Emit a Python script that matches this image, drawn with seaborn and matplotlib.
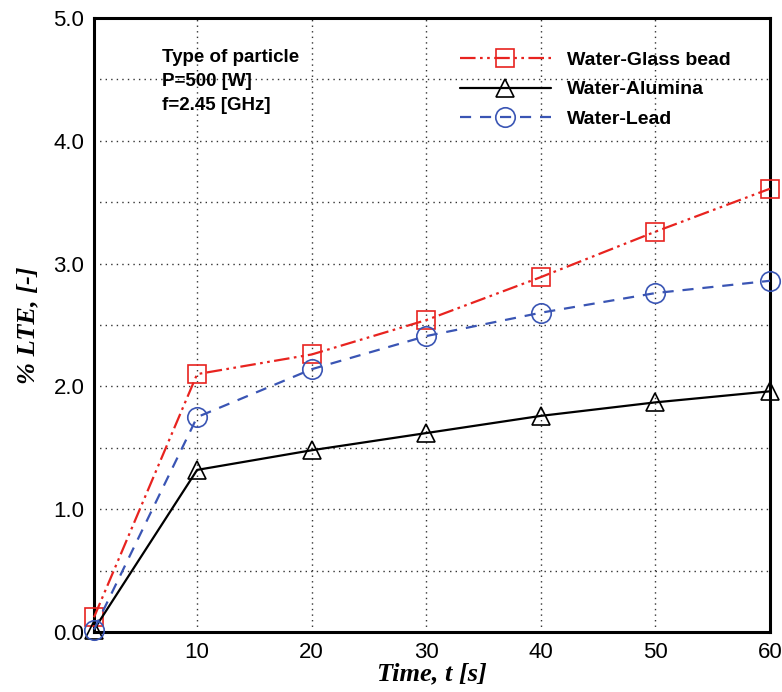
import matplotlib
matplotlib.use("Agg")
import matplotlib.pyplot as plt
import seaborn as sns
import numpy as np
from matplotlib.ticker import MultipleLocator

time = [1, 10, 20, 30, 40, 50, 60]
glass_bead = [0.12, 2.10, 2.26, 2.54, 2.89, 3.26, 3.61]
alumina = [0.02, 1.32, 1.48, 1.62, 1.76, 1.87, 1.96]
lead = [0.02, 1.75, 2.14, 2.41, 2.60, 2.76, 2.86]

series_names = ["Water-Glass bead", "Water-Alumina", "Water-Lead"]
annotation = ["Type of particle", "P=500 [W]", "f=2.45 [GHz]"]

sns.set_style("white")
plt.rcParams["font.family"] = ["Liberation Sans", "DejaVu Sans"]
plt.rcParams["text.color"] = "black"
plt.rcParams["xtick.color"] = "black"
plt.rcParams["ytick.color"] = "black"
plt.rcParams["axes.labelcolor"] = "black"

fig = plt.figure(figsize=(7.82, 6.92), dpi=100)
ax = fig.add_axes([94/782, 60/692, 676/782, 614/692])

styles = [
    dict(color="#e8231f", marker="s", linestyle=(0, (7, 2, 1.2, 2, 1.2, 2)), ms=12.5),
    dict(color="black", marker="^", linestyle="-", ms=12.5),
    dict(color="#3a55b4", marker="o", linestyle=(0, (5, 4)), ms=14),
]
for name, vals, st in zip(series_names, [glass_bead, alumina, lead], styles):
    sns.lineplot(x=time, y=vals, ax=ax, color=st["color"], marker=st["marker"],
                 linestyle=st["linestyle"], lw=1.6, markersize=st["ms"],
                 markerfacecolor="none", markeredgecolor=st["color"],
                 markeredgewidth=1.2, label=name, clip_on=False, zorder=3)

ax.set_xlim(1, 60)
ax.set_ylim(0, 5)
ax.xaxis.set_major_locator(MultipleLocator(10))
ax.xaxis.set_minor_locator(MultipleLocator(5))
ax.yaxis.set_major_locator(MultipleLocator(1))
ax.yaxis.set_minor_locator(MultipleLocator(0.5))
ax.set_xticks([10, 20, 30, 40, 50, 60])
ax.set_xticklabels(["10", "20", "30", "40", "50", "60"])
ax.yaxis.set_major_formatter(matplotlib.ticker.FormatStrFormatter("%.1f"))

ax.grid(True, which="major", axis="x", linestyle=(0, (1, 3)), color="#333333", lw=1.0)
ax.grid(True, which="both", axis="y", linestyle=(0, (1, 3)), color="#333333", lw=1.0)

for s in ax.spines.values():
    s.set_linewidth(2.2)
    s.set_color("black")

ax.tick_params(which="major", direction="in", length=9, width=2, labelsize=16, pad=7,
               top=False, right=False, colors="black")
ax.tick_params(which="minor", direction="in", length=5, width=1.5, top=False, right=False)

ax.set_xlabel("Time, t [s]", family="Liberation Serif", fontstyle="italic",
              fontweight="bold", fontsize=19, labelpad=0)
ax.set_ylabel("% LTE, [-]", family="Liberation Serif", fontstyle="italic",
              fontweight="bold", fontsize=19, labelpad=10)

for i, line in enumerate(annotation):
    ax.text(0.10, 0.935 - i * 0.039, line, transform=ax.transAxes,
            fontsize=13.5, fontweight="bold", va="center", ha="left")

leg = ax.legend(loc="upper left", bbox_to_anchor=(0.541, 0.946), frameon=False,
                handlelength=4.7, handletextpad=0.8, labelspacing=0.62,
                borderpad=0, borderaxespad=0,
                prop={"weight": "bold", "size": 14})

fig.savefig("out.png", dpi=100)
